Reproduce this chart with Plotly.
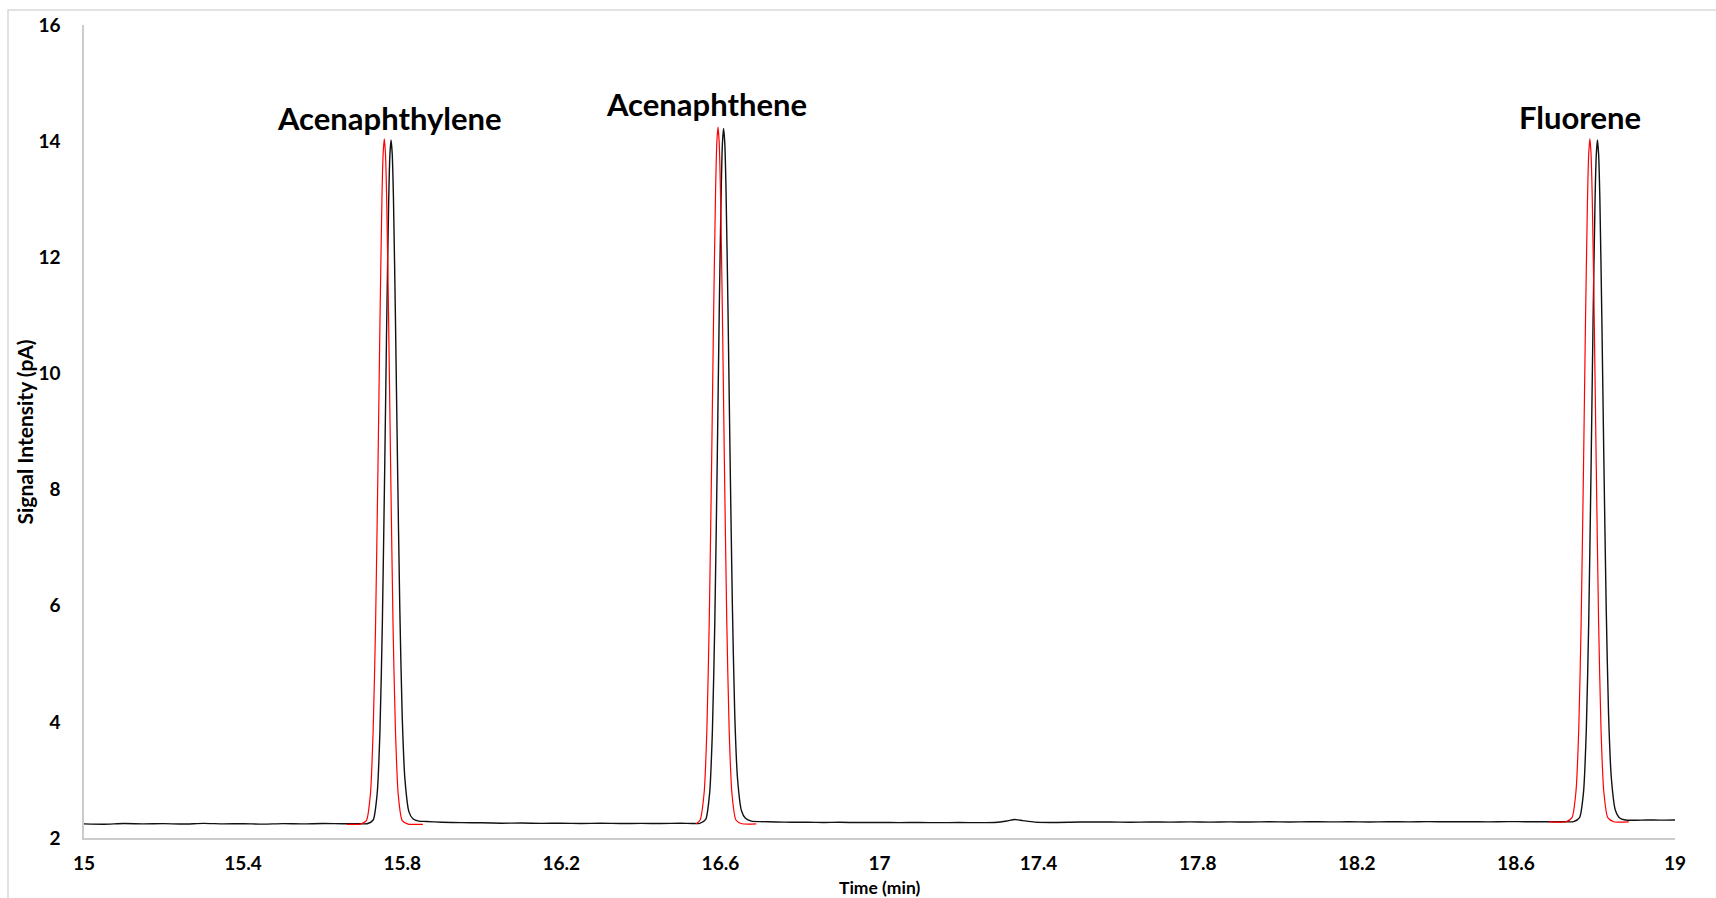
import plotly.graph_objects as go

# ---- Chromatogram data: retention time (min) and FID signal (pA) ----
# Sample run (black): continuous trace over 15-19 min
black_base_a_t = [15.00, 15.05, 15.10, 15.15, 15.20, 15.25, 15.30, 15.35, 15.40, 15.45,
                  15.50, 15.55, 15.60, 15.65, 15.69]
black_base_a_y = [2.244, 2.238, 2.249, 2.243, 2.247, 2.240, 2.251, 2.244, 2.246, 2.239,
                  2.248, 2.243, 2.250, 2.245, 2.246]

black_peak1_t = [15.712, 15.727, 15.737, 15.744, 15.750, 15.756, 15.761, 15.766, 15.769, 15.772,
                 15.775, 15.778, 15.783, 15.788, 15.794, 15.800, 15.807, 15.817, 15.827, 15.842]
black_peak1_y = [2.246, 2.31, 2.76, 3.83, 5.66, 8.36, 10.86, 12.97, 13.75, 14.02,
                 13.77, 13.02, 10.95, 8.55, 5.95, 4.10, 3.00, 2.45, 2.33, 2.29]

black_base_b_t = [15.86, 15.90, 15.95, 16.00, 16.05, 16.10, 16.15, 16.20, 16.25, 16.30,
                  16.35, 16.40, 16.45, 16.50, 16.53]
black_base_b_y = [2.285, 2.272, 2.265, 2.262, 2.255, 2.258, 2.252, 2.255, 2.250, 2.253,
                  2.249, 2.252, 2.250, 2.253, 2.250]

black_peak2_t = [16.548, 16.563, 16.573, 16.580, 16.586, 16.592, 16.597, 16.602, 16.605, 16.608,
                 16.611, 16.614, 16.619, 16.624, 16.630, 16.636, 16.643, 16.653, 16.663, 16.678]
black_peak2_y = [2.252, 2.32, 2.78, 3.87, 5.74, 8.47, 11.03, 13.16, 13.95, 14.22,
                 13.97, 13.21, 11.14, 8.70, 6.05, 4.15, 3.03, 2.47, 2.34, 2.29]

black_base_c_t = [16.70, 16.74, 16.78, 16.82, 16.86, 16.90, 16.95, 17.00, 17.05, 17.10,
                  17.15, 17.20, 17.25, 17.29, 17.32, 17.34, 17.36, 17.39, 17.43, 17.48,
                  17.53, 17.58, 17.63, 17.68, 17.73, 17.78, 17.83, 17.88, 17.93, 17.98,
                  18.03, 18.08, 18.13, 18.18, 18.23, 18.28, 18.33, 18.38, 18.43, 18.48,
                  18.53, 18.58, 18.63, 18.68, 18.72]
black_base_c_y = [2.282, 2.276, 2.272, 2.270, 2.268, 2.270, 2.266, 2.268, 2.265, 2.267,
                  2.264, 2.266, 2.265, 2.268, 2.292, 2.318, 2.300, 2.274, 2.268, 2.272,
                  2.278, 2.275, 2.272, 2.276, 2.273, 2.277, 2.274, 2.278, 2.275, 2.279,
                  2.276, 2.280, 2.277, 2.279, 2.276, 2.280, 2.278, 2.282, 2.279, 2.281,
                  2.278, 2.282, 2.280, 2.281, 2.280]

black_peak3_t = [18.745, 18.760, 18.770, 18.777, 18.783, 18.789, 18.794, 18.799, 18.802, 18.805,
                 18.808, 18.811, 18.816, 18.821, 18.827, 18.833, 18.840, 18.850, 18.860, 18.875]
black_peak3_y = [2.281, 2.35, 2.79, 3.86, 5.69, 8.38, 10.90, 12.99, 13.75, 14.02,
                 13.77, 13.04, 10.98, 8.58, 5.98, 4.12, 3.03, 2.48, 2.35, 2.31]

black_base_d_t = [18.90, 18.93, 18.96, 19.00]
black_base_d_y = [2.306, 2.311, 2.307, 2.310]

# Reference standard (red): recorded only around each peak
red_peak1_t = [15.661, 15.695, 15.710, 15.720, 15.727, 15.733, 15.739, 15.744, 15.749, 15.752, 15.755,
               15.758, 15.761, 15.766, 15.771, 15.777, 15.783, 15.790, 15.800, 15.815, 15.852]
red_peak1_y = [2.236, 2.240, 2.30, 2.75, 3.85, 5.65, 8.35, 10.85, 12.99, 13.77, 14.04,
               13.77, 12.99, 10.85, 8.35, 5.65, 3.85, 2.75, 2.30, 2.24, 2.236]

red_peak2_t = [16.539, 16.549, 16.559, 16.566, 16.572, 16.578, 16.583, 16.588, 16.591, 16.594,
               16.597, 16.600, 16.605, 16.610, 16.616, 16.622, 16.629, 16.639, 16.654, 16.690]
red_peak2_y = [2.244, 2.31, 2.77, 3.87, 5.74, 8.49, 11.05, 13.19, 13.97, 14.24,
               13.97, 13.19, 11.05, 8.49, 5.74, 3.87, 2.77, 2.31, 2.245, 2.242]

red_peak3_t = [18.683, 18.726, 18.741, 18.751, 18.758, 18.764, 18.770, 18.775, 18.780, 18.783, 18.786,
               18.789, 18.792, 18.797, 18.802, 18.808, 18.814, 18.821, 18.831, 18.846, 18.884]
red_peak3_y = [2.278, 2.280, 2.35, 2.80, 3.87, 5.70, 8.40, 10.91, 13.00, 13.77, 14.04,
               13.77, 13.00, 10.91, 8.40, 5.70, 3.87, 2.80, 2.35, 2.28, 2.276]

# Compound labels
peak_names = ["Acenaphthylene", "Acenaphthene", "Fluorene"]
label_x = [15.769, 16.566, 18.761]
label_y = [14.40, 14.64, 14.42]

# Axis ticks
x_ticks = [15, 15.4, 15.8, 16.2, 16.6, 17, 17.4, 17.8, 18.2, 18.6, 19]
x_tick_text = ["15", "15.4", "15.8", "16.2", "16.6", "17", "17.4", "17.8", "18.2", "18.6", "19"]
y_ticks = [2, 4, 6, 8, 10, 12, 14, 16]

# ---- assemble traces ----
black_t = (black_base_a_t + black_peak1_t + black_base_b_t + black_peak2_t
           + black_base_c_t + black_peak3_t + black_base_d_t)
black_y = (black_base_a_y + black_peak1_y + black_base_b_y + black_peak2_y
           + black_base_c_y + black_peak3_y + black_base_d_y)
red_t = red_peak1_t + [None] + red_peak2_t + [None] + red_peak3_t
red_y = red_peak1_y + [None] + red_peak2_y + [None] + red_peak3_y

FONT = "Lato"

fig = go.Figure()
fig.add_trace(go.Scatter(
    x=black_t, y=black_y, mode="lines",
    line=dict(color="#111111", width=1.4, shape="spline", smoothing=0.6),
    hoverinfo="x+y", showlegend=False,
))
fig.add_trace(go.Scatter(
    x=red_t, y=red_y, mode="lines", connectgaps=False,
    line=dict(color="#ff0000", width=1.2, shape="spline", smoothing=0.6),
    hoverinfo="x+y", showlegend=False,
))

for name, lx, ly in zip(peak_names, label_x, label_y):
    fig.add_annotation(
        x=lx, y=ly, xref="x", yref="y", text=name, showarrow=False,
        xanchor="center", yanchor="middle",
        font=dict(family=FONT, size=31, color="#000000", weight="bold"),
    )

# axis titles
fig.add_annotation(
    x=0.5, y=-0.0605, xref="paper", yref="paper", text="Time (min)", showarrow=False,
    xanchor="center", yanchor="middle",
    font=dict(family=FONT, size=17.5, color="#000000", weight="bold"),
)
fig.add_annotation(
    x=-0.0371, y=0.5, xref="paper", yref="paper", text="Signal Intensity (pA)",
    showarrow=False, textangle=-90, xanchor="center", yanchor="middle",
    font=dict(family=FONT, size=21, color="#000000", weight="bold"),
)

# outer chart frame
fig.add_shape(
    type="rect", xref="paper", yref="paper",
    x0=-76 / 1591, x1=1.1, y0=-0.2, y1=1 + 15 / 813,
    line=dict(color="#d9d9d9", width=1.5), fillcolor="rgba(0,0,0,0)", layer="below",
)

fig.update_layout(
    width=1716, height=898,
    margin=dict(l=84, r=41, t=25, b=60),
    paper_bgcolor="white", plot_bgcolor="white",
    font=dict(family=FONT, color="#000000"),
)
fig.update_xaxes(
    range=[15, 19], tickvals=x_ticks, ticktext=x_tick_text,
    showgrid=False, zeroline=False,
    showline=True, linecolor="#cccccc", linewidth=1.5,
    ticks="", ticklabelstandoff=7,
    tickfont=dict(family=FONT, size=19, color="#000000", weight="bold"),
)
fig.update_yaxes(
    range=[2, 16], tickvals=y_ticks,
    showgrid=False, zeroline=False,
    showline=True, linecolor="#cccccc", linewidth=1.5,
    ticks="", ticklabelstandoff=18,
    tickfont=dict(family=FONT, size=19, color="#000000", weight="bold"),
)

fig.write_html("out.html")
